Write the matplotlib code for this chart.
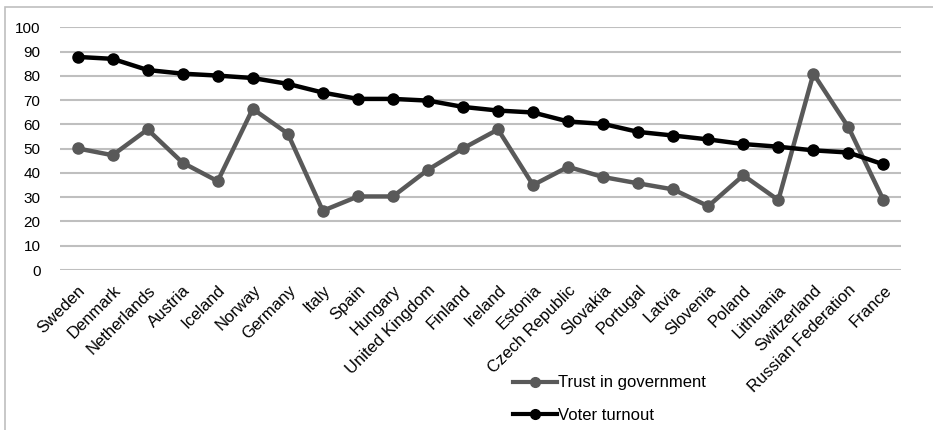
import matplotlib
matplotlib.use('Agg')
import matplotlib.pyplot as plt
from matplotlib.lines import Line2D
from matplotlib.patches import Rectangle

# 国名（横軸のカテゴリ）
countries = ['Sweden', 'Denmark', 'Netherlands', 'Austria', 'Iceland', 'Norway',
             'Germany', 'Italy', 'Spain', 'Hungary', 'United Kingdom', 'Finland',
             'Ireland', 'Estonia', 'Czech Republic', 'Slovakia', 'Portugal', 'Latvia',
             'Slovenia', 'Poland', 'Lithuania', 'Switzerland', 'Russian Federation',
             'France']

# 政府への信頼（%）
trust = [50.1, 47.3, 57.9, 44.2, 36.6, 66.4, 56.2, 24.4, 30.3, 30.3, 41.3, 50.1,
         57.9, 35.0, 42.5, 38.3, 35.7, 33.2, 26.3, 39.0, 28.8, 80.9, 58.8, 28.8]

# 投票率（%）
turnout = [87.8, 87.0, 82.4, 80.9, 80.1, 79.1, 76.7, 73.1, 70.5, 70.5, 69.8, 67.2,
           65.7, 64.9, 61.2, 60.2, 56.9, 55.4, 53.8, 51.9, 50.8, 49.3, 48.4, 43.5]

yticks = [0, 10, 20, 30, 40, 50, 60, 70, 80, 90, 100]

plt.rcParams['font.family'] = ['Liberation Sans', 'DejaVu Sans']

fig = plt.figure(figsize=(9.33, 4.3), dpi=100)
ax = fig.add_axes([60 / 933, 1 - 270 / 430, 841 / 933, (270 - 27.3) / 430])

# 外枠
fig.patches.append(Rectangle((5 / 933, -0.1), 1.2, 1 - 7 / 430 + 0.1,
                             transform=fig.transFigure, fill=False,
                             edgecolor='#bfbfbf', linewidth=1.2))

x = list(range(len(countries)))
gray = '#595959'
ax.plot(x, trust, color=gray, linewidth=3.2, marker='o', markersize=8,
        label='Trust in government', zorder=3)
ax.plot(x, turnout, color='black', linewidth=3.2, marker='o', markersize=8,
        label='Voter turnout', zorder=4)

ax.set_xlim(-0.5, len(countries) - 0.5)
ax.set_ylim(0, 100)
ax.set_yticks(yticks)
ax.yaxis.grid(True, color='#bfbfbf', linewidth=1.5)
ax.set_axisbelow(True)
for s in ax.spines.values():
    s.set_visible(False)
ax.tick_params(axis='both', length=0, labelsize=11)
ax.tick_params(axis='y', pad=14)

ax.set_xticks(x)
ax.set_xticklabels(countries, rotation=45, ha='right', va='top',
                   rotation_mode='anchor', fontsize=12)
ax.tick_params(axis='x', pad=9)

# 凡例
handles = [Line2D([], [], color=gray, linewidth=3, marker='o', markersize=7),
           Line2D([], [], color='black', linewidth=3, marker='o', markersize=7)]
fig.legend(handles, ['Trust in government', 'Voter turnout'],
           loc='upper left', bbox_to_anchor=(505 / 933, 1 - 367 / 430),
           frameon=False, fontsize=12, handlelength=2.6, handletextpad=0.1,
           labelspacing=1.05, borderpad=0)

fig.savefig('out.png', dpi=100)
